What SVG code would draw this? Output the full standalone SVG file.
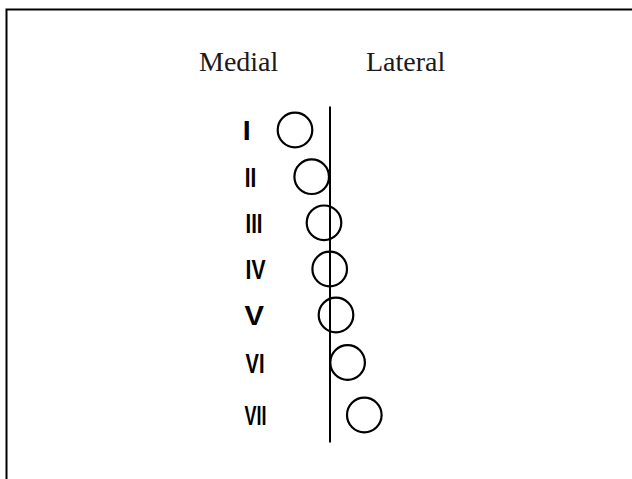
<svg xmlns="http://www.w3.org/2000/svg" width="632" height="479" viewBox="0 0 632 479">
<style>
.frame{fill:none;stroke:#000;stroke-width:2}
.ring{fill:none;stroke:#000;stroke-width:2.2}
.axis{fill:none;stroke:#000;stroke-width:2}
.head{font-family:"Liberation Serif","Times New Roman",serif;font-size:28px;fill:#1a1a1a}
.num{font-family:"Liberation Sans",Arial,sans-serif;font-size:28.5px;font-weight:bold;fill:#000}
</style>
<rect width="632" height="479" fill="#fff"/>
<path class="frame" d="M6.5,479 V9.5 H632"/>
<text class="head" x="199" y="70.5">Medial</text>
<text class="head" x="366" y="70.5">Lateral</text>
<g id="connectors">
<line class="axis" x1="330" y1="106.5" x2="330" y2="442.5"/>
</g>
<g id="node-I"><circle class="ring" cx="295" cy="130" r="17.3"/><text class="num" x="242.8" y="140.3">I</text></g>
<g id="node-II"><circle class="ring" cx="311.7" cy="176.7" r="17.3"/><text class="num" x="244.8" y="187" textLength="11.5" lengthAdjust="spacingAndGlyphs">II</text></g>
<g id="node-III"><circle class="ring" cx="324" cy="222.8" r="17.3"/><text class="num" x="245.5" y="233.2" textLength="17" lengthAdjust="spacingAndGlyphs">III</text></g>
<g id="node-IV"><circle class="ring" cx="329.7" cy="269" r="17.3"/><text class="num" x="245.5" y="279.3" textLength="20" lengthAdjust="spacingAndGlyphs">IV</text></g>
<g id="node-V"><circle class="ring" cx="336" cy="315" r="17.3"/><text class="num" x="244.5" y="325.3" textLength="19.5" lengthAdjust="spacingAndGlyphs">V</text></g>
<g id="node-VI"><circle class="ring" cx="347.6" cy="362.5" r="17.3"/><text class="num" x="245.5" y="372.8" textLength="19" lengthAdjust="spacingAndGlyphs">VI</text></g>
<g id="node-VII"><circle class="ring" cx="364.3" cy="415" r="17.3"/><text class="num" x="244.5" y="425.3" textLength="22" lengthAdjust="spacingAndGlyphs">VII</text></g>
</svg>
